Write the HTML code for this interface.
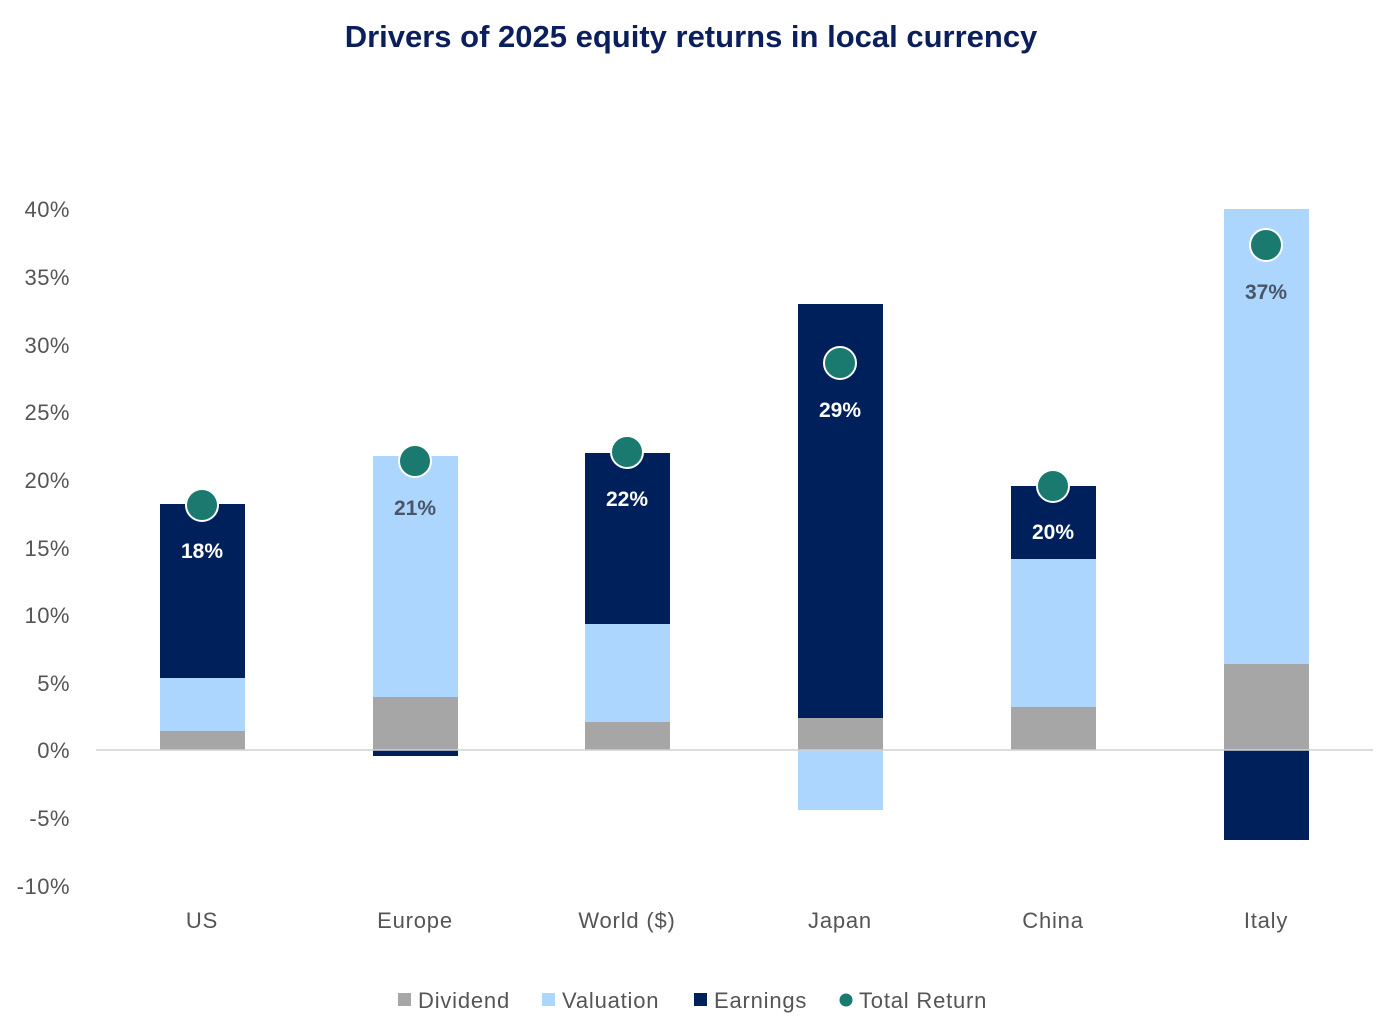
<!DOCTYPE html>
<html><head><meta charset="utf-8"><style>
html,body{margin:0;padding:0;background:#fff;}
svg{display:block;font-family:"Liberation Sans",sans-serif;}
</style></head><body>
<svg width="1397" height="1023" viewBox="0 0 1397 1023">
<text x="691" y="47" text-anchor="middle" font-size="31" font-weight="bold" fill="#0b1f5c">Drivers of 2025 equity returns in local currency</text>
<g font-size="22" fill="#555" text-anchor="end" letter-spacing="0.5">
<text x="70" y="217">40%</text><text x="70" y="285">35%</text><text x="70" y="353">30%</text>
<text x="70" y="420">25%</text><text x="70" y="488">20%</text><text x="70" y="556">15%</text>
<text x="70" y="623">10%</text><text x="70" y="691">5%</text><text x="70" y="758">0%</text>
<text x="70" y="826">-5%</text><text x="70" y="894">-10%</text>
</g>
<rect x="160" y="731" width="85" height="19" fill="#a6a6a6"/>
<rect x="160" y="678" width="85" height="53" fill="#add6ff"/>
<rect x="160" y="504" width="85" height="174" fill="#00205b"/>
<rect x="373" y="697" width="85" height="53" fill="#a6a6a6"/>
<rect x="373" y="456" width="85" height="241" fill="#add6ff"/>
<rect x="373" y="750" width="85" height="6" fill="#00205b"/>
<rect x="585" y="722" width="85" height="28" fill="#a6a6a6"/>
<rect x="585" y="624" width="85" height="98" fill="#add6ff"/>
<rect x="585" y="453" width="85" height="171" fill="#00205b"/>
<rect x="798" y="718" width="85" height="32" fill="#a6a6a6"/>
<rect x="798" y="304" width="85" height="414" fill="#00205b"/>
<rect x="798" y="750" width="85" height="60" fill="#add6ff"/>
<rect x="1011" y="707" width="85" height="43" fill="#a6a6a6"/>
<rect x="1011" y="559" width="85" height="148" fill="#add6ff"/>
<rect x="1011" y="486" width="85" height="73" fill="#00205b"/>
<rect x="1224" y="664" width="85" height="86" fill="#a6a6a6"/>
<rect x="1224" y="209" width="85" height="455" fill="#add6ff"/>
<rect x="1224" y="750" width="85" height="90" fill="#00205b"/>
<line x1="96" y1="750" x2="1373" y2="750" stroke="#d0d0d0" stroke-width="1.5"/>
<g fill="#1a7a70" stroke="#fff" stroke-width="2">
<circle cx="202" cy="505" r="16"/><circle cx="415" cy="461" r="16"/><circle cx="627" cy="452" r="16"/>
<circle cx="840" cy="363" r="16"/><circle cx="1053" cy="486" r="16"/><circle cx="1266" cy="245" r="16"/>
</g>
<g font-size="21" font-weight="bold" text-anchor="middle">
<text x="202" y="558" fill="#fff">18%</text>
<text x="415" y="515" fill="#4a5568">21%</text>
<text x="627" y="506" fill="#fff">22%</text>
<text x="840" y="417" fill="#fff">29%</text>
<text x="1053" y="539" fill="#fff">20%</text>
<text x="1266" y="299" fill="#4a5568">37%</text>
</g>
<g font-size="22" fill="#555" text-anchor="middle" letter-spacing="0.8">
<text x="202" y="928">US</text><text x="415" y="928">Europe</text><text x="627" y="928">World ($)</text>
<text x="840" y="928">Japan</text><text x="1053" y="928">China</text><text x="1266" y="928">Italy</text>
</g>
<g font-size="22" fill="#555" letter-spacing="0.8">
<rect x="398" y="993" width="13" height="13" fill="#a6a6a6"/><text x="418" y="1008">Dividend</text>
<rect x="542" y="993" width="13" height="13" fill="#add6ff"/><text x="562" y="1008">Valuation</text>
<rect x="694" y="993" width="13" height="13" fill="#00205b"/><text x="714" y="1008">Earnings</text>
<circle cx="846" cy="1000" r="6.5" fill="#1a7a70"/><text x="859" y="1008">Total Return</text>
</g>
</svg>
</body></html>
